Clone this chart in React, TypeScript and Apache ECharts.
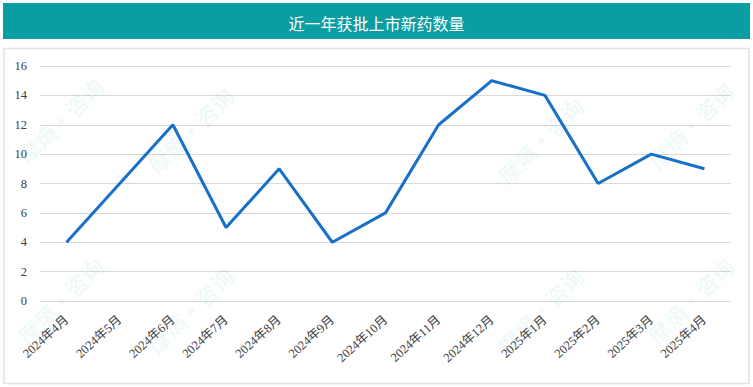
import React, { useEffect, useRef } from "react";
import * as echarts from "echarts";

const categories = [
  "2024年4月", "2024年5月", "2024年6月", "2024年7月", "2024年8月", "2024年9月",
  "2024年10月", "2024年11月", "2024年12月", "2025年1月", "2025年2月", "2025年3月", "2025年4月",
];
const values = [4, 8, 12, 5, 9, 4, 6, 12, 15, 14, 8, 10, 9];
const titleText = "近一年获批上市新药数量";

const watermarkPos: [number, number][] = [
  [60, 120], [190, 130], [540, 140], [690, 125],
  [60, 300], [190, 310], [540, 310], [690, 300],
];

export default function App() {
  const ref = useRef<HTMLDivElement>(null);
  useEffect(() => {
    document.body.style.margin = "0";
    const chart = echarts.init(ref.current!, null, { renderer: "svg" });
    const serif = "'Liberation Serif', 'Noto Sans CJK SC', serif";
    chart.setOption({
      animation: false,
      backgroundColor: "#ffffff",
      title: {
        text: titleText,
        left: "center",
        top: 10,
        textStyle: { color: "#ffffff", fontSize: 16, fontWeight: "normal", fontFamily: "'Noto Sans CJK SC', sans-serif" },
      },
      graphic: [
        { type: "rect", shape: { x: 3, y: 3, width: 747, height: 36 }, style: { fill: "#0A9DA2" }, z: -1 },
        { type: "rect", shape: { x: 4, y: 48.5, width: 745, height: 335 }, style: { fill: "none", stroke: "#e3e3e3", lineWidth: 1.5 }, z: -1 },
        ...watermarkPos.map(([x, y]) => ({
          type: "text",
          x, y,
          rotation: Math.PI / 4,
          style: { text: "摩熵·咨询", fill: "rgba(10,170,160,0.07)", font: "bold 22px 'Noto Sans CJK SC'", align: "center", verticalAlign: "middle" },
          z: 10,
          silent: true,
        })),
      ],
      grid: { left: 40, right: 22, top: 66, bottom: 86 },
      xAxis: {
        type: "category",
        data: categories,
        boundaryGap: true,
        axisLine: { show: false },
        axisTick: { show: false },
        axisLabel: { rotate: 42, color: "#404040", fontSize: 12.5, fontFamily: serif, margin: 17, interval: 0 },
      },
      yAxis: {
        type: "value",
        min: 0,
        max: 16,
        interval: 2,
        axisLine: { show: false },
        axisTick: { show: false },
        axisLabel: { color: "#404040", fontSize: 12.5, fontFamily: serif, margin: 13 },
        splitLine: { lineStyle: { color: "#d9d9d9", width: 1 } },
      },
      series: [
        {
          type: "line",
          data: values,
          showSymbol: false,
          symbol: "none",
          lineStyle: { color: "#1870C8", width: 3 },
        },
      ],
    });
    return () => chart.dispose();
  }, []);
  return <div ref={ref} style={{ width: 753, height: 387 }} />;
}
